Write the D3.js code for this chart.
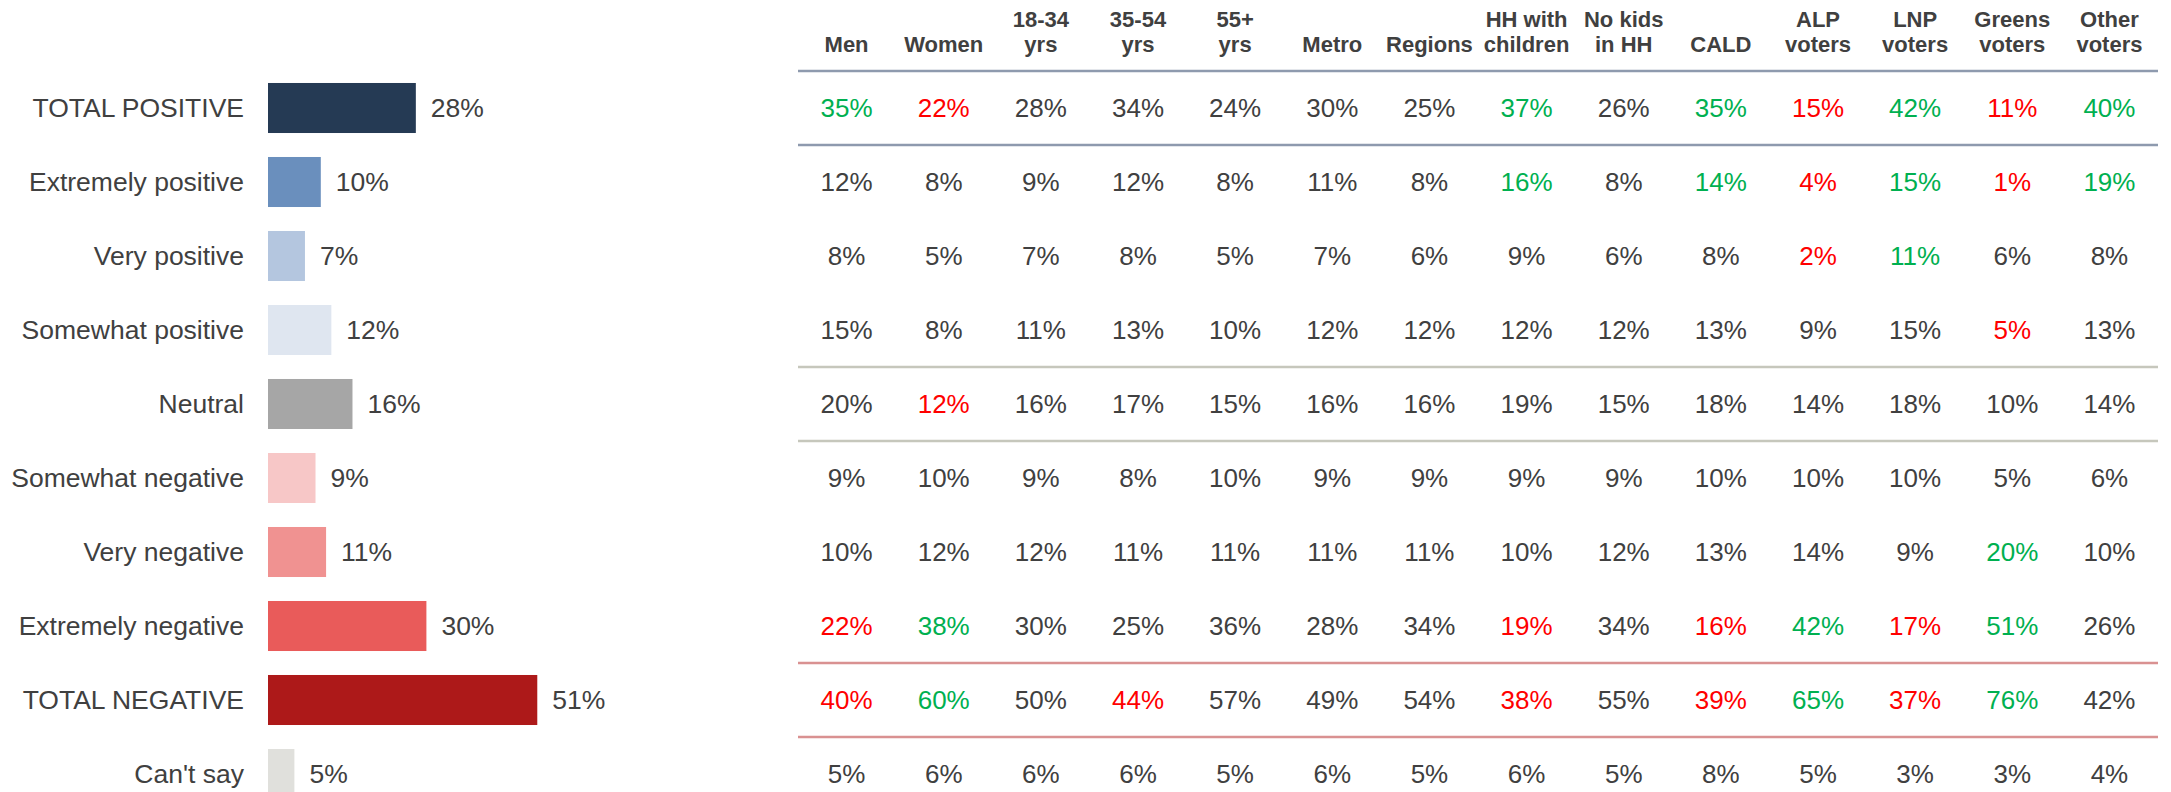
<!DOCTYPE html>
<html>
<head>
<meta charset="utf-8">
<script src="https://cdn.jsdelivr.net/npm/d3@7"></script>
<style>
  body { margin: 0; background: #fff; }
  svg text { font-family: Arial, "Liberation Sans", sans-serif; fill: #404040; }
  .hdr { font-weight: bold; font-size: 22px; }
  .lbl { font-size: 26.5px; }
  .val { font-size: 26px; }
</style>
</head>
<body>
<div id="chart"></div>
<script>
// Rows of the survey question
var rowLabels = ["TOTAL POSITIVE", "Extremely positive", "Very positive", "Somewhat positive",
  "Neutral", "Somewhat negative", "Very negative", "Extremely negative", "TOTAL NEGATIVE", "Can't say"];
var totalValues = [28, 10, 7, 12, 16, 9, 11, 30, 51, 5];

// Sub-group columns (header text split in two lines)
var columns = ["Men", "Women", "18-34 yrs", "35-54 yrs", "55+ yrs", "Metro", "Regions",
  "HH with children", "No kids in HH", "CALD", "ALP voters", "LNP voters", "Greens voters", "Other voters"];
var headerTop = ["", "", "18-34", "35-54", "55+", "", "", "HH with", "No kids", "", "ALP", "LNP", "Greens", "Other"];
var headerBottom = ["Men", "Women", "yrs", "yrs", "yrs", "Metro", "Regions", "children", "in HH", "CALD", "voters", "voters", "voters", "voters"];

// Values per row, one per column
var cellValues = [
  [35, 22, 28, 34, 24, 30, 25, 37, 26, 35, 15, 42, 11, 40],
  [12, 8, 9, 12, 8, 11, 8, 16, 8, 14, 4, 15, 1, 19],
  [8, 5, 7, 8, 5, 7, 6, 9, 6, 8, 2, 11, 6, 8],
  [15, 8, 11, 13, 10, 12, 12, 12, 12, 13, 9, 15, 5, 13],
  [20, 12, 16, 17, 15, 16, 16, 19, 15, 18, 14, 18, 10, 14],
  [9, 10, 9, 8, 10, 9, 9, 9, 9, 10, 10, 10, 5, 6],
  [10, 12, 12, 11, 11, 11, 11, 10, 12, 13, 14, 9, 20, 10],
  [22, 38, 30, 25, 36, 28, 34, 19, 34, 16, 42, 17, 51, 26],
  [40, 60, 50, 44, 57, 49, 54, 38, 55, 39, 65, 37, 76, 42],
  [5, 6, 6, 6, 5, 6, 5, 6, 5, 8, 5, 3, 3, 4]
];

// Significance flags: "+" higher than total, "-" lower than total
var cellSig = [
  ["+", "-", "", "", "", "", "", "+", "", "+", "-", "+", "-", "+"],
  ["", "", "", "", "", "", "", "+", "", "+", "-", "+", "-", "+"],
  ["", "", "", "", "", "", "", "", "", "", "-", "+", "", ""],
  ["", "", "", "", "", "", "", "", "", "", "", "", "-", ""],
  ["", "-", "", "", "", "", "", "", "", "", "", "", "", ""],
  ["", "", "", "", "", "", "", "", "", "", "", "", "", ""],
  ["", "", "", "", "", "", "", "", "", "", "", "", "+", ""],
  ["-", "+", "", "", "", "", "", "-", "", "-", "+", "-", "+", ""],
  ["-", "+", "", "-", "", "", "", "-", "", "-", "+", "-", "+", ""],
  ["", "", "", "", "", "", "", "", "", "", "", "", "", ""]
];

// Divider lines: drawn above these row indexes (9 = above last row)
var dividerRows = [0, 1, 4, 5, 8, 9];
var dividerTone = ["pos", "pos", "neu", "neu", "neg", "neg"];

// styling
var barColors = ["#253a54", "#6a8fbd", "#b4c6df", "#dfe6f0", "#a6a6a6",
  "#f7c7c7", "#f09291", "#e95b5a", "#ad1919", "#e0e0dc"];
var toneColors = { pos: "#8e9aae", neu: "#c6c7bc", neg: "#d99191" };
var sigColors = { "+": "#00b050", "-": "#ff0000", "": "#404040" };

var svgWidth = 2171;
var svgHeight = 792;

var svg = d3.select("#chart")
  .append("svg")
  .attr("width", svgWidth)
  .attr("height", svgHeight);

// row scale shared by the bars and the table
var yScale = d3.scaleBand()
  .domain(rowLabels)
  .range([71, 811])
  .paddingInner(0.324)
  .paddingOuter(0.162);

var xScale = d3.scaleLinear()
  .domain([0, 100])
  .range([268, 796]);

var colScale = d3.scaleBand()
  .domain(columns)
  .range([798, 2158]);

var rowMid = d => yScale(d) + yScale.bandwidth() / 2;

// Left: bar chart
var barGroup = svg.append("g");

barGroup.selectAll("rect")
  .data(rowLabels)
  .enter()
  .append("rect")
  .attr("x", xScale(0))
  .attr("y", d => yScale(d))
  .attr("width", (d, i) => xScale(totalValues[i]) - xScale(0))
  .attr("height", yScale.bandwidth())
  .attr("fill", (d, i) => barColors[i]);

barGroup.selectAll(".lbl")
  .data(rowLabels)
  .enter()
  .append("text")
  .attr("class", "lbl")
  .attr("x", 244)
  .attr("y", d => rowMid(d))
  .attr("dy", "0.35em")
  .attr("text-anchor", "end")
  .text(d => d);

barGroup.selectAll(".barval")
  .data(rowLabels)
  .enter()
  .append("text")
  .attr("class", "lbl barval")
  .attr("x", (d, i) => xScale(totalValues[i]) + 15)
  .attr("y", d => rowMid(d))
  .attr("dy", "0.35em")
  .text((d, i) => totalValues[i] + "%");

// Right: table of sub-groups
var tableGroup = svg.append("g");

// divider lines
tableGroup.selectAll("line")
  .data(dividerRows)
  .enter()
  .append("line")
  .attr("x1", colScale.range()[0])
  .attr("x2", colScale.range()[1])
  .attr("y1", d => yScale(rowLabels[d]) - yScale.step() * yScale.paddingInner() / 2)
  .attr("y2", d => yScale(rowLabels[d]) - yScale.step() * yScale.paddingInner() / 2)
  .attr("stroke", (d, i) => toneColors[dividerTone[i]])
  .attr("stroke-width", 2.5);

// column headers
var headers = tableGroup.selectAll(".hdr")
  .data(columns)
  .enter()
  .append("text")
  .attr("class", "hdr")
  .attr("text-anchor", "middle");

headers.append("tspan")
  .attr("x", d => colScale(d) + colScale.bandwidth() / 2)
  .attr("y", 26.5)
  .text((d, i) => headerTop[i]);

headers.append("tspan")
  .attr("x", d => colScale(d) + colScale.bandwidth() / 2)
  .attr("y", 52)
  .text((d, i) => headerBottom[i]);

// cells
rowLabels.forEach(function(row, r) {
  tableGroup.selectAll(".cell-" + r)
    .data(cellValues[r])
    .enter()
    .append("text")
    .attr("class", "val cell-" + r)
    .attr("x", (d, c) => colScale(columns[c]) + colScale.bandwidth() / 2)
    .attr("y", rowMid(row))
    .attr("dy", "0.35em")
    .attr("text-anchor", "middle")
    .style("fill", (d, c) => sigColors[cellSig[r][c]])
    .text(d => d + "%");
});
</script>
</body>
</html>
